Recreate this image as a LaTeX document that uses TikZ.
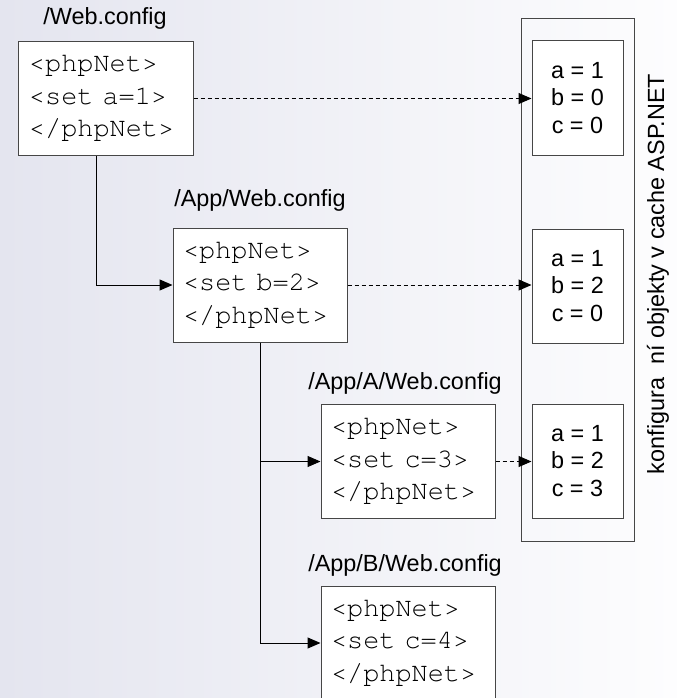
\documentclass[tikz,border=0pt]{standalone}
\usepackage{fontspec}
\setmainfont{Liberation Sans}
\newfontfamily\codefont{TeX Gyre Cursor}
\usetikzlibrary{arrows.meta}

\definecolor{bgleft}{RGB}{228,229,239}
\definecolor{bgright}{RGB}{253,253,254}
\definecolor{frame}{RGB}{70,70,70}

\tikzset{
  cfgbox/.style={draw=frame, fill=white, line width=1bp, minimum width=174bp,
    minimum height=114bp, inner xsep=10bp, text width=154bp, align=left,
    font=\codefont\fontsize{27}{32.5}\selectfont},
  valbox/.style={draw=frame, fill=white, line width=1bp, minimum width=91bp,
    minimum height=114bp, align=center, font=\fontsize{23.5}{28}\selectfont},
  path label/.style={font=\fontsize{23.5}{26}\selectfont, inner sep=0},
  conn/.style={line width=1bp, -{Triangle[length=13bp,width=11bp]}},
  dconn/.style={conn, dash pattern=on 4bp off 3bp}
}

\begin{document}
\begin{tikzpicture}[x=1bp,y=-1bp]
\useasboundingbox (0,0) rectangle (677,698);
\clip (0,0) rectangle (677,698);
\shade[left color=bgleft, right color=bgright] (0,0) rectangle (677,698);

% configuration files
\node[cfgbox] (c1) at (106,98.5) {<phpNet>\\<set a=1>\\</phpNet>};
\node[cfgbox] (c2) at (260,285) {<phpNet>\\<set b=2>\\</phpNet>};
\node[cfgbox] (c3) at (408,461.5) {<phpNet>\\<set c=3>\\</phpNet>};
\node[cfgbox] (c4) at (408,643) {<phpNet>\\<set c=4>\\</phpNet>};

\node[path label] (l1) at (105,18) {/Web.config};
\node[path label] (l2) at (260,200) {/App/Web.config};
\node[path label] (l3) at (405,383) {/App/A/Web.config};
\node[path label] (l4) at (405,565) {/App/B/Web.config};

% cached configuration objects
\draw[frame, line width=1bp] (521,19) rectangle (634,541);
\node[valbox] (vA) at (577.5,98) {a = 1\\b = 0\\c = 0};
\node[valbox] (vB) at (577.5,286) {a = 1\\b = 2\\c = 0};
\node[valbox] (vC) at (577.5,461) {a = 1\\b = 2\\c = 3};
\node[path label, rotate=90] (cap) at (658,274) {konfigura\ \ ní objekty v cache ASP.NET};

% inheritance
\coordinate (j1) at (96,285);
\draw[conn] (c1.south -| j1) |- (c2.west);
\draw[conn] (c2.south) |- (c3.west);
\draw[conn] (c2.south) |- (c4.west);

% resulting settings
\draw[dconn] (c1.east) -- (c1.east -| vA.west);
\draw[dconn] (c2.east) -- (c2.east -| vB.west);
\draw[dconn] (c3.east) -- (c3.east -| vC.west);
\end{tikzpicture}
\end{document}
